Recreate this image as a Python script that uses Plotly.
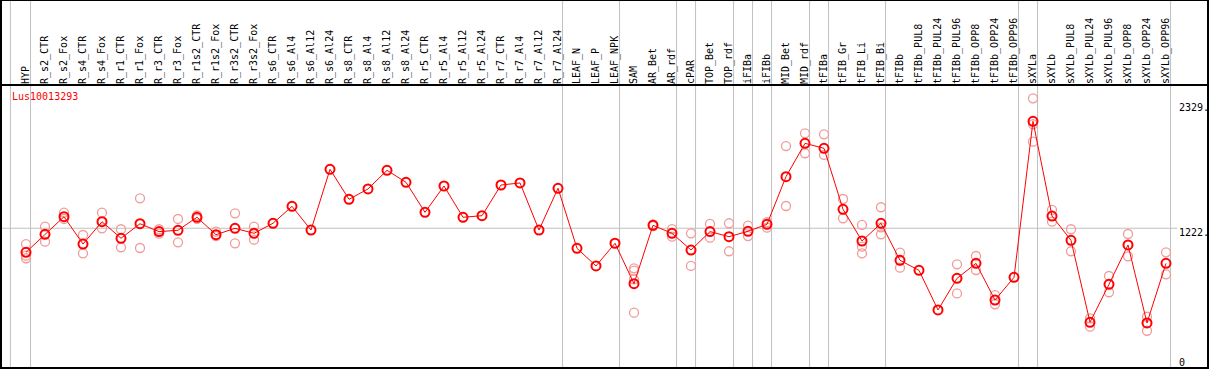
import plotly.graph_objects as go

categories = ["HYP", "R_s2_CTR", "R_s2_Fox", "R_s4_CTR", "R_s4_Fox", "R_r1_CTR", "R_r1_Fox",
              "R_r3_CTR", "R_r3_Fox", "R_r1s2_CTR", "R_r1s2_Fox", "R_r3s2_CTR", "R_r3s2_Fox",
              "R_s6_CTR", "R_s6_Al4", "R_s6_Al12", "R_s6_Al24", "R_s8_CTR", "R_s8_Al4",
              "R_s8_Al12", "R_s8_Al24", "R_r5_CTR", "R_r5_Al4", "R_r5_Al12", "R_r5_Al24",
              "R_r7_CTR", "R_r7_Al4", "R_r7_Al12", "R_r7_Al24", "LEAF_N", "LEAF_P", "LEAF_NPK",
              "SAM", "AR_Bet", "AR_rdf", "cPAR", "TOP_Bet", "TOP_rdf", "iFIBa", "iFIBb",
              "MID_Bet", "MID_rdf", "tFIBa", "tFIB_Gr", "tFIB_Li", "tFIB_Bi", "tFIBb",
              "tFIBb_PUL8", "tFIBb_PUL24", "tFIBb_PUL96", "tFIBb_OPP8", "tFIBb_OPP24",
              "tFIBb_OPP96", "sXYLa", "sXYLb", "sXYLb_PUL8", "sXYLb_PUL24", "sXYLb_PUL96",
              "sXYLb_OPP8", "sXYLb_OPP24", "sXYLb_OPP96"]

mean_values = [1009, 1168, 1324, 1082, 1280, 1133, 1262, 1192, 1204, 1319, 1165, 1221, 1177,
               1266, 1416, 1206, 1744, 1478, 1570, 1735, 1629, 1363, 1596, 1319, 1333,
               1605, 1623, 1206, 1576, 1044, 888, 1089,
               731, 1248, 1177, 1029, 1192, 1147, 1195, 1257,
               1679, 1974, 1930, 1390, 1109, 1266, 938,
               849, 498, 778, 911, 586, 787, 2169, 1330, 1115, 389, 725, 1074, 383, 911]

N = None
rep1 = [1082, 1236, 1360, 1162, 1360, 1213, 1487, 1213, 1304, 1335, 1192, 1354, 1236,
        N, N, N, N, N, N, N, N, N, N, N, N, N, N, N, N, N, N, N,
        867, 1240, 1215, 1177, 1260, 1266, 1245, 1227,
        1950, 2063, 2054, 1481, 1251, 1408, 1006,
        N, N, 902, 976, 630, N, 2373, 1384, 1213, 424, 799, 1171, 438, 1009]
rep2 = [979, 1103, 1304, 1000, 1221, 1053, 1047, 1174, 1097, 1305, 1153, 1088, 1121,
        N, N, N, N, N, N, N, N, N, N, N, N, N, N, N, N, N, N, N,
        846, 1256, 1147, 888, 1138, 1018, 1153, 1275,
        1419, 1886, 1871, 1310, 1059, 1230, 873,
        N, N, 645, 852, 548, N, 2143, 1280, 1018, 350, 655, 973, 314, 814]
rep3 = [956, N, N, N, N, N, N, N, N, N, N, N, N,
        N, N, N, N, N, N, N, N, N, N, N, N, N, N, N, N, N, N, N,
        770, N, N, N, N, N, N, N,
        N, N, N, N, 1000, 1168, N,
        N, N, N, N, N, N, 1989, N, N, N, N, N, N, N]
rep4 = [N] * 32 + [474] + [N] * 28

group_ends = ["HYP", "R_r7_Al24", "LEAF_NPK", "AR_rdf", "cPAR", "TOP_rdf", "iFIBa", "iFIBb",
              "MID_rdf", "tFIBa", "tFIB_Bi", "tFIBb_OPP96", "sXYLa", "sXYLb_OPP96"]

gene = "Lus10013293"
ytick_vals = [0, 1222, 2329]
ytick_text = ["0", "1222.", "2329."]
ytick_shift = [4, -4, -4]

FONT = "DejaVu Sans Mono"
W, H = 1209, 370
ML, MR, MT, MB = 1, 1, 85, 2
pw = W - ML - MR
ph = H - MT - MB

xs = list(range(len(categories)))
rx, ry = [], []
for reps in (rep1, rep2, rep3, rep4):
    for i, v in enumerate(reps):
        if v is not None:
            rx.append(i)
            ry.append(v)

fig = go.Figure()
fig.add_trace(go.Scatter(
    x=rx, y=ry, mode="markers",
    marker=dict(symbol="circle-open", size=9, color="rgb(240,155,155)",
                line=dict(width=1.3, color="rgb(240,155,155)")),
    hoverinfo="skip", showlegend=False))
fig.add_trace(go.Scatter(
    x=xs, y=mean_values, mode="lines+markers",
    line=dict(color="#ff0000", width=1),
    marker=dict(symbol="circle-open", size=9, color="#ff0000",
                line=dict(width=2, color="#ff0000")),
    showlegend=False))

# pixel-to-axis mapping
x_left = (ML - 26) / 19.0
x_right = (W - MR - 26) / 19.0
slope = 0.1129
y0_px = 366.2
y_top = (y0_px - MT) / slope
y_bot = (y0_px - (H - MB)) / slope

top_paper = (H - MB) / ph
shapes = []
for name in group_ends:
    i = categories.index(name)
    shapes.append(dict(type="line", xref="x", yref="paper", x0=i + 0.24, x1=i + 0.24,
                       y0=0, y1=top_paper, line=dict(color="#c0c0c0", width=1), layer="below"))
shapes.append(dict(type="line", xref="x", yref="paper", x0=-0.82, x1=-0.82,
                   y0=0, y1=top_paper, line=dict(color="#c0c0c0", width=1), layer="below"))
shapes.append(dict(type="line", xref="paper", yref="y", x0=0, x1=(1177 - ML) / pw,
                   y0=1222, y1=1222, line=dict(color="#c0c0c0", width=1), layer="below"))
shapes.append(dict(type="rect", xref="paper", yref="paper", x0=0, x1=1, y0=0, y1=top_paper,
                   line=dict(color="black", width=2)))
shapes.append(dict(type="line", xref="paper", yref="paper", x0=0, x1=1, y0=1, y1=1,
                   line=dict(color="black", width=2)))

annotations = [dict(text=gene, xref="paper", yref="paper", x=(10 - ML) / pw,
                    y=(H - MB - 97) / ph, xanchor="left", yanchor="middle",
                    showarrow=False, font=dict(family=FONT, size=10, color="#ff0000"))]
for v, t, s in zip(ytick_vals, ytick_text, ytick_shift):
    annotations.append(dict(text=t, xref="paper", yref="y", x=(1178 - ML) / pw, y=v,
                            xanchor="left", yanchor="middle", yshift=s, showarrow=False,
                            borderpad=0, font=dict(family=FONT, size=10, color="black")))

fig.update_layout(
    width=W, height=H,
    margin=dict(l=ML, r=MR, t=MT, b=MB, pad=0),
    paper_bgcolor="white", plot_bgcolor="white",
    font=dict(family=FONT, size=10, color="black"),
    shapes=shapes,
    annotations=annotations,
    xaxis=dict(range=[x_left, x_right], side="top", tickmode="array", tickvals=xs,
               ticktext=categories, tickangle=-90, ticks="", showgrid=False, zeroline=False,
               showline=False, tickfont=dict(family=FONT, size=10, color="black")),
    yaxis=dict(range=[y_bot, y_top], side="right", tickmode="array", tickvals=ytick_vals,
               showticklabels=False, ticks="", showgrid=False, zeroline=False, showline=False),
)

fig.write_html("out.html", config={"displayModeBar": False},
               post_script="document.body.style.margin='0';")
